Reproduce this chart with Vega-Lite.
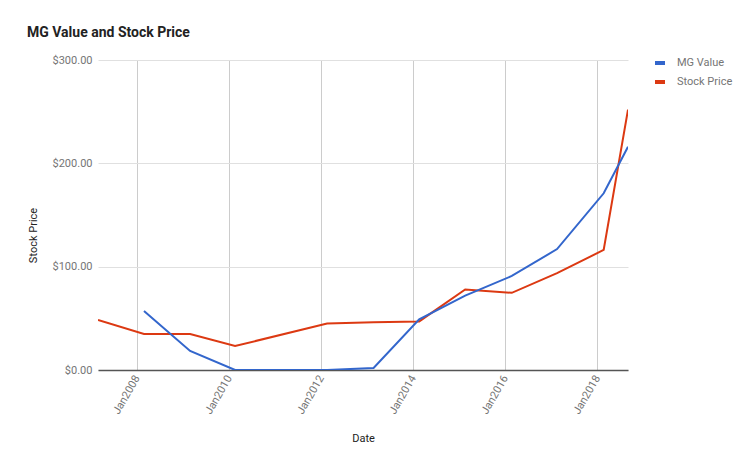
{
  "$schema": "https://vega.github.io/schema/vega-lite/v6.json",
  "width": 530,
  "height": 310,
  "autosize": "none",
  "padding": {"left": 98, "top": 60, "right": 125, "bottom": 99},
  "background": "white",
  "title": {
    "text": "MG Value and Stock Price",
    "anchor": "start",
    "frame": "group",
    "dx": -71,
    "offset": 3,
    "font": "Roboto",
    "fontSize": 14,
    "fontWeight": "bold",
    "color": "#222222",
    "baseline": "alphabetic"
  },
  "config": {
    "view": {"stroke": null},
    "font": "Roboto"
  },
  "data": {
    "values": [
      {"date": "2007-02-25", "series": "Stock Price", "value": 48.4},
      {"date": "2008-02-25", "series": "Stock Price", "value": 34.8},
      {"date": "2009-02-25", "series": "Stock Price", "value": 34.8},
      {"date": "2010-02-17", "series": "Stock Price", "value": 23.2},
      {"date": "2012-02-17", "series": "Stock Price", "value": 45.0},
      {"date": "2013-02-20", "series": "Stock Price", "value": 46.2},
      {"date": "2014-02-17", "series": "Stock Price", "value": 47.0},
      {"date": "2015-02-17", "series": "Stock Price", "value": 78.0},
      {"date": "2016-02-22", "series": "Stock Price", "value": 74.7},
      {"date": "2017-02-15", "series": "Stock Price", "value": 93.7},
      {"date": "2018-02-20", "series": "Stock Price", "value": 116.2},
      {"date": "2018-09-01", "series": "Stock Price", "value": 252.0},
      {"date": "2008-02-25", "series": "MG Value", "value": 57.1},
      {"date": "2009-02-25", "series": "MG Value", "value": 18.4},
      {"date": "2010-02-17", "series": "MG Value", "value": 0},
      {"date": "2012-02-17", "series": "MG Value", "value": 0},
      {"date": "2013-02-20", "series": "MG Value", "value": 1.9},
      {"date": "2014-02-17", "series": "MG Value", "value": 49.0},
      {"date": "2015-02-17", "series": "MG Value", "value": 72.0},
      {"date": "2016-02-22", "series": "MG Value", "value": 91.0},
      {"date": "2017-02-15", "series": "MG Value", "value": 117.0},
      {"date": "2018-02-20", "series": "MG Value", "value": 171.0},
      {"date": "2018-09-01", "series": "MG Value", "value": 216.0}
    ]
  },
  "mark": {"type": "line", "strokeWidth": 2, "clip": true},
  "encoding": {
    "x": {
      "field": "date",
      "type": "temporal",
      "scale": {"type": "utc", "domain": ["2007-02-25", "2018-09-01"], "nice": false},
      "axis": {
        "title": "Date",
        "format": "%b%Y",
        "tickCount": {"interval": "year", "step": 2},
        "labelAngle": -60,
        "labelFont": "Roboto",
        "labelFontSize": 11,
        "labelColor": "#757575",
        "labelPadding": 6,
        "ticks": false,
        "domain": true,
        "domainColor": "#555555",
        "domainWidth": 1.5,
        "grid": true,
        "gridColor": "#cccccc",
        "titleFont": "Roboto",
        "titleFontSize": 11,
        "titleFontWeight": "normal",
        "titleColor": "#222222",
        "titleY": 71,
        "titleBaseline": "alphabetic"
      }
    },
    "y": {
      "field": "value",
      "type": "quantitative",
      "scale": {"domain": [0, 300], "nice": false},
      "axis": {
        "title": "Stock Price",
        "values": [0, 100, 200, 300],
        "format": "$,.2f",
        "labelFont": "Roboto",
        "labelFontSize": 11,
        "labelColor": "#757575",
        "labelPadding": 6,
        "ticks": false,
        "domain": false,
        "grid": true,
        "gridColor": "#e0e0e0",
        "titleFont": "Roboto",
        "titleFontSize": 11,
        "titleFontWeight": "normal",
        "titleColor": "#222222",
        "titleX": -62,
        "titleY": 175,
        "titleAngle": -90,
        "titleBaseline": "alphabetic"
      }
    },
    "color": {
      "field": "series",
      "type": "nominal",
      "scale": {"domain": ["MG Value", "Stock Price"], "range": ["#3366cc", "#dc3912"]},
      "legend": {
        "title": null,
        "orient": "none",
        "legendX": 555,
        "legendY": -4,
        "direction": "vertical",
        "symbolType": "stroke",
        "symbolStrokeWidth": 4,
        "symbolSize": 100,
        "labelFont": "Roboto",
        "labelFontSize": 11,
        "labelColor": "#757575",
        "labelOffset": 10,
        "rowPadding": 3
      }
    }
  }
}
